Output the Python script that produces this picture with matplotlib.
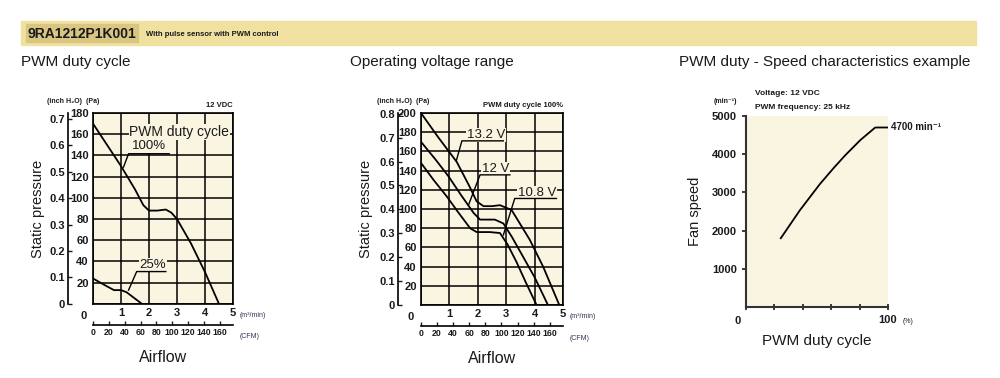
import matplotlib
matplotlib.use("Agg")
import matplotlib.pyplot as plt
import matplotlib.patches as mpatches

plt.rcParams['font.family'] = ['Liberation Sans', 'DejaVu Sans']

# --- data ---
# PWM duty cycle: static pressure (Pa) vs airflow (m3/min)
duty100_x = [0, 0.5, 1.0, 1.5, 1.8, 2.0, 2.3, 2.6, 2.8, 3.0, 3.5, 4.0, 4.5]
duty100_y = [170, 150, 130, 108, 93, 88, 88, 89, 86, 80, 57, 30, 0]
duty25_x = [0, 0.4, 0.75, 1.0, 1.2, 1.45, 1.75]
duty25_y = [24, 18, 13, 13, 11, 6, 0]

# Operating voltage range
v132_x = [0, 0.6, 1.26, 1.7, 1.96, 2.2, 2.5, 2.78, 3.19, 3.5, 3.83, 4.3, 4.87]
v132_y = [200, 175, 149, 124, 108, 103, 103, 104, 99, 84, 68, 40, 0]
v12_x = [0, 0.5, 0.97, 1.4, 1.85, 2.08, 2.35, 2.6, 2.9, 3.2, 3.6, 4.0, 4.47]
v12_y = [170, 152, 134, 115, 96, 89, 89, 89, 85, 71, 50, 29, 0]
v108_x = [0, 0.45, 0.91, 1.3, 1.73, 1.96, 2.2, 2.43, 2.78, 3.05, 3.36, 3.7, 4.07]
v108_y = [148, 130, 113, 97, 80, 76, 76, 76, 75, 63, 45, 23, 0]

# PWM duty - speed
duty_pct = [24.5, 38, 52, 62, 70, 80.5, 91, 100]
speed_rpm = [1800, 2535, 3217, 3650, 3977, 4370, 4700, 4700]

PA_PER_INCH = 249.089
CFM_PER_M3 = 35.3147

TXT = '#1a1a1a'
BG = '#faf5e1'

fig = plt.figure(figsize=(10, 3.78), dpi=100)


def px(x, y):
    return x / 1000, 1 - y / 378


# banner
fig.patches.append(mpatches.Rectangle(px(21, 45), 955 / 1000, 24 / 378,
                                      transform=fig.transFigure, color='#f1e1a1', zorder=0))
fig.patches.append(mpatches.Rectangle(px(26, 42), 112 / 1000, 18 / 378,
                                      transform=fig.transFigure, color='#d8c682', zorder=0))
fig.text(*px(28, 33.5), '9RA1212P1K001', fontsize=10, fontweight='bold', va='center', color=TXT)
fig.text(*px(146, 34), 'With pulse sensor with PWM control', fontsize=5.5, fontweight='bold',
         va='center', color=TXT)
fig.text(*px(21, 62), 'PWM duty cycle', fontsize=11, va='center', color=TXT)
fig.text(*px(350, 62), 'Operating voltage range', fontsize=11, va='center', color=TXT)
fig.text(*px(679, 62), 'PWM duty - Speed characteristics example', fontsize=11, va='center', color=TXT)


def bold_labels(labels):
    for lab in labels:
        lab.set_fontweight('bold')


def pq_axes(rect, ymax, inch_ticks, inch_loc, note):
    ax = fig.add_axes(rect)
    ax.set_facecolor(BG)
    ax.set_xlim(0, 5)
    ax.set_ylim(0, ymax)
    ax.set_xticks(range(0, 6))
    ax.set_xticklabels([''] + [str(i) for i in range(1, 6)])
    ax.set_yticks(range(0, ymax + 1, 20))
    ax.set_yticklabels([''] + [str(v) for v in range(20, ymax + 1, 20)])
    ax.tick_params(length=0, labelsize=8, colors=TXT, pad=3)
    bold_labels(ax.get_xticklabels() + ax.get_yticklabels())
    ax.grid(True, color='black', lw=1.1)
    ax.set_axisbelow(True)
    for s in ax.spines.values():
        s.set_linewidth(1.2)
    ax.text(-0.07, -0.035, '0', transform=ax.transAxes, fontsize=8, fontweight='bold',
            ha='center', va='top', color=TXT)

    inch = ax.secondary_yaxis(inch_loc, functions=(lambda p: p / PA_PER_INCH,
                                                   lambda i: i * PA_PER_INCH))
    inch.set_yticks(inch_ticks)
    inch.set_yticklabels(['0'] + ['%.1f' % t for t in inch_ticks[1:]])
    inch.tick_params(direction='in', length=3, width=1, labelsize=8, colors=TXT, pad=2)
    inch.spines['left'].set_linewidth(1.2)
    bold_labels(inch.get_yticklabels())

    cfm = ax.secondary_xaxis(-0.11, functions=(lambda m: m * CFM_PER_M3,
                                               lambda c: c / CFM_PER_M3))
    cfm.set_xticks(range(0, 161, 20))
    cfm.tick_params(direction='in', length=3, width=1, labelsize=6.3, colors=TXT, pad=2)
    cfm.spines['bottom'].set_linewidth(1.2)
    bold_labels(cfm.get_xticklabels())

    ax.text(inch_loc - 0.15, 1.04, '(inch H\u2082O)  (Pa)', transform=ax.transAxes,
            fontsize=5, fontweight='bold', va='bottom', color=TXT)
    ax.text(1.0, 1.02, note, transform=ax.transAxes, fontsize=5.5, fontweight='bold',
            ha='right', va='bottom', color=TXT)
    ax.text(1.05, -0.04, '(m\u00b3/min)', transform=ax.transAxes, fontsize=5,
            va='top', color='#333355')
    ax.text(1.05, -0.155, '(CFM)', transform=ax.transAxes, fontsize=5,
            va='top', color='#333355')
    ax.text(0.5, -0.24, 'Airflow', transform=ax.transAxes, fontsize=11.5,
            ha='center', va='top', color=TXT)
    ax.text(-0.39, 0.5, 'Static pressure', transform=ax.transAxes, fontsize=10.5,
            rotation=90, ha='center', va='center', color=TXT)
    return ax


def label(ax, text, tx, ty, x0, x1, uy, cx, cy):
    ax.text(tx, ty, text, fontsize=9.5, color=TXT, ha='left', va='center',
            bbox=dict(facecolor=BG, edgecolor='none', pad=0.5), zorder=4)
    ax.plot([x1, x0, cx], [uy, uy, cy], color='black', lw=1.0, zorder=5)


# panel 1
ax1 = pq_axes([0.093, 0.196, 0.140, 0.505], 180, [0, 0.1, 0.2, 0.3, 0.4, 0.5, 0.6, 0.7],
              -0.179, '12 VDC')
ax1.plot(duty100_x, duty100_y, color='black', lw=1.3, zorder=3)
ax1.plot(duty25_x, duty25_y, color='black', lw=1.3, zorder=3)
ax1.text(1.3, 162, 'PWM duty cycle', fontsize=10, color=TXT, va='center',
         bbox=dict(facecolor=BG, edgecolor='none', pad=0.5), zorder=4)
label(ax1, '100%', 1.4, 149, 1.27, 2.72, 141.6, 1.09, 129)
label(ax1, '25%', 1.66, 37, 1.56, 2.6, 30.5, 1.27, 13)

# panel 2
ax2 = pq_axes([0.421, 0.193, 0.142, 0.508], 200,
              [0, 0.1, 0.2, 0.3, 0.4, 0.5, 0.6, 0.7, 0.8], -0.162, 'PWM duty cycle 100%')
for xs, ys in [(v132_x, v132_y), (v12_x, v12_y), (v108_x, v108_y)]:
    ax2.plot(xs, ys, color='black', lw=1.3, zorder=3)
label(ax2, '13.2 V', 1.61, 177, 1.44, 2.9, 171, 1.24, 150)
label(ax2, '12 V', 2.14, 142, 2.08, 3.13, 135.6, 1.67, 104)
label(ax2, '10.8 V', 3.42, 117, 3.3, 4.77, 111, 2.9, 73)

# panel 3
ax3 = fig.add_axes([0.746, 0.188, 0.142, 0.505])
ax3.set_facecolor(BG)
ax3.set_xlim(0, 100)
ax3.set_ylim(0, 5000)
ax3.plot(duty_pct, speed_rpm, color='black', lw=1.3)
for s in ['top', 'right']:
    ax3.spines[s].set_visible(False)
for s in ['left', 'bottom']:
    ax3.spines[s].set_linewidth(1.5)
    ax3.spines[s].set_color('#333333')
ax3.set_yticks(range(1000, 5001, 1000))
ax3.set_xticks(range(0, 101, 20))
ax3.set_xticklabels(['', '', '', '', '', '100'])
ax3.tick_params(axis='y', length=3, width=1.2, labelsize=8, colors=TXT)
ax3.tick_params(axis='x', direction='inout', length=5, width=1.2, labelsize=8, colors=TXT)
bold_labels(ax3.get_xticklabels() + ax3.get_yticklabels())
ax3.text(-0.06, -0.05, '0', transform=ax3.transAxes, fontsize=8, fontweight='bold',
         ha='center', va='top', color=TXT)
ax3.text(1.1, -0.06, '(%)', transform=ax3.transAxes, fontsize=5, va='top', color=TXT)
ax3.text(-0.23, 1.06, '(min\u207b\u00b9)', transform=ax3.transAxes, fontsize=5,
         fontweight='bold', va='bottom', color=TXT)
ax3.text(0.06, 1.12, 'Voltage: 12 VDC', transform=ax3.transAxes, fontsize=6,
         fontweight='bold', va='center', color=TXT)
ax3.text(0.06, 1.045, 'PWM frequency: 25 kHz', transform=ax3.transAxes, fontsize=6,
         fontweight='bold', va='center', color=TXT)
ax3.text(1.02, speed_rpm[-1], '4700 min\u207b\u00b9', transform=ax3.get_yaxis_transform(),
         fontsize=7, fontweight='bold', va='center', color=TXT)
ax3.text(-0.36, 0.5, 'Fan speed', transform=ax3.transAxes, fontsize=10.5, rotation=90,
         ha='center', va='center', color=TXT)
ax3.text(0.5, -0.14, 'PWM duty cycle', transform=ax3.transAxes, fontsize=11,
         ha='center', va='top', color=TXT)

fig.savefig('out.png', dpi=100)
